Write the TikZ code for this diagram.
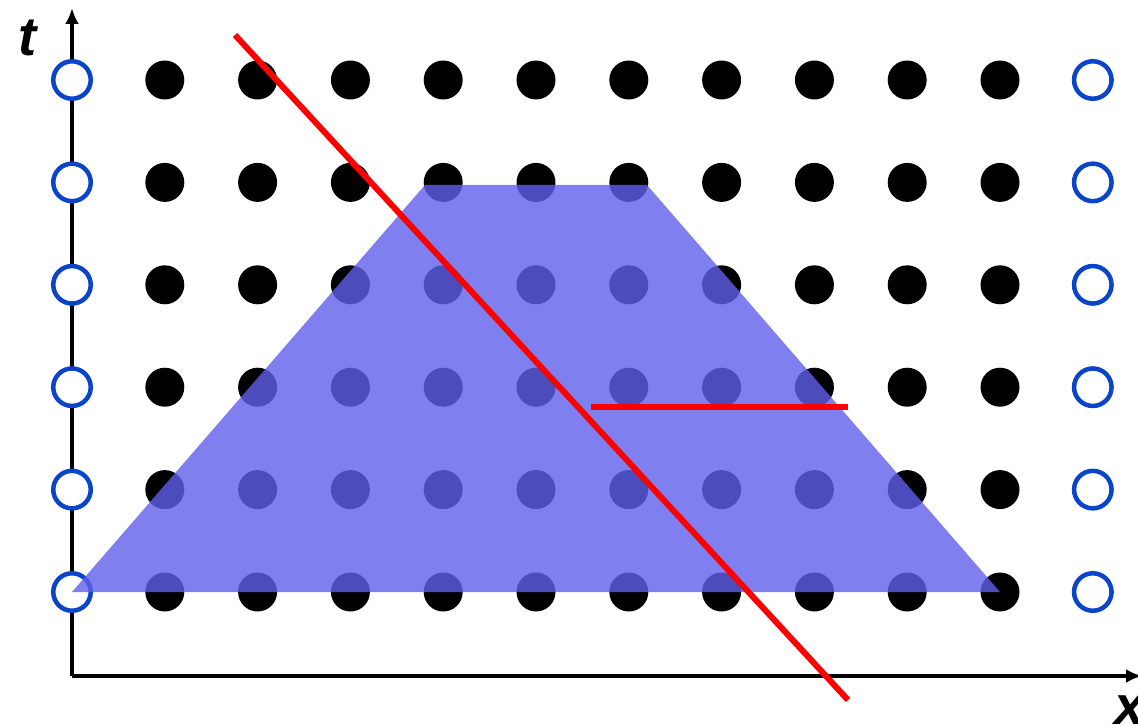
\documentclass[tikz,border=0pt]{standalone}
\usepackage{fontspec}
\setmainfont{Liberation Sans}
\usepackage{tikz}
\usetikzlibrary{arrows.meta}
\definecolor{site}{HTML}{0A44C8}
\definecolor{region}{RGB}{95,95,235}
\definecolor{cut}{HTML}{FF0000}

\begin{document}
\begin{tikzpicture}[x=0.02cm, y=-0.02cm,
  lattice/.style={circle, fill=black, inner sep=0pt, minimum size=0.78cm},
  boundary/.style={circle, draw=site, fill=white, line width=0.09cm, inner sep=0pt, minimum size=0.75cm},
  axis/.style={line width=0.07cm, -{Latex[length=0.32cm, width=0.28cm]}},
  axislabel/.style={font=\fontsize{31}{33}\selectfont\bfseries\itshape}]
  \useasboundingbox (0,0) rectangle (1138,726);
  % axes
  \coordinate (origin) at (72,676);
  \draw[axis] (origin) -- (72,8) coordinate (ttip);
  \draw[axis] (origin) -- (1142,676) coordinate (xtip);
  \node[axislabel] (tlabel) at (28,38) {t};
  \node[axislabel] (xlabel) at (1130,710) {x};
  % lattice sites
  \foreach \j in {0,...,5} {
    \node[boundary] (b0-\j) at (72,592-102.4*\j) {};
    \node[boundary] (b11-\j) at (72+92.8*11,592-102.4*\j) {};
    \foreach \i in {1,...,10}
      \node[lattice] (s\i-\j) at (72+92.8*\i,592-102.4*\j) {};
  }
  % domain of dependence
  \fill[region, opacity=0.8] (b0-0.center) -- (s10-0.center)
    -- (647,185) -- (425,185) -- cycle;
  % cuts
  \draw[cut, line width=0.12cm] (235,35) -- (848,700);
  \draw[cut, line width=0.12cm] (591,407) -- (848,407);
\end{tikzpicture}
\end{document}
